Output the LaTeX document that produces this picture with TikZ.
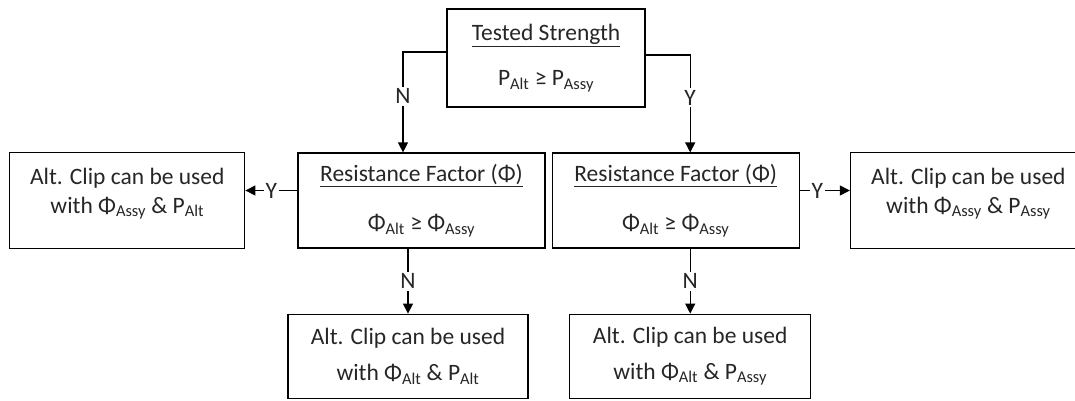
\documentclass[tikz,border=0pt]{standalone}
\usepackage{fontspec}
\setmainfont{Carlito}
\usetikzlibrary{arrows.meta, positioning}
\tikzstyle{box} = [rectangle, draw=black, line width=1.2pt, inner sep=0pt, align=center, text=black!85, font=\fontsize{23.5}{28}\selectfont]
\tikzstyle{strength} = [box, minimum width=198pt, minimum height=98pt]
\tikzstyle{factor} = [box, minimum width=247pt, minimum height=95pt]
\tikzstyle{result} = [box, minimum width=236pt, minimum height=96pt]
\tikzstyle{answer} = [fill=white, inner sep=2pt, text=black!85, font=\fontsize{23.5}{28}\selectfont]
\tikzstyle{arrow} = [-{Triangle[length=10pt, width=10pt]}, line width=1.2pt]

\begin{document}
\begin{tikzpicture}[x=1pt, y=-1pt]
  \useasboundingbox (0,0) rectangle (1075,400);
  \node (test) [strength] at (546,58) {\underline{Tested Strength}\\[17pt] P\textsubscript{Alt} ≥ P\textsubscript{Assy}};
  \node (resL) [factor] at (421.5,200.5) {\underline{Resistance Factor (Φ)}\\[21pt] Φ\textsubscript{Alt} ≥ Φ\textsubscript{Assy}};
  \node (resR) [factor, right=6pt of resL] {\underline{Resistance Factor (Φ)}\\[21pt] Φ\textsubscript{Alt} ≥ Φ\textsubscript{Assy}};
  \node (outL) [result, minimum width=235pt, text depth=20pt, left=52pt of resL] {Alt. Clip can be used\\[1pt] with Φ\textsubscript{Assy} \& P\textsubscript{Alt}};
  \node (outR) [result, text depth=20pt, right=50pt of resR] {Alt. Clip can be used\\[1pt] with Φ\textsubscript{Assy} \& P\textsubscript{Assy}};
  \node (botL) [result, minimum width=240pt, minimum height=84pt, below=65pt of resL, xshift=-13.5pt] {Alt. Clip can be used\\[8pt] with Φ\textsubscript{Alt} \& P\textsubscript{Alt}};
  \node (botR) [result, minimum width=241pt, minimum height=84pt, below=65pt of resR, xshift=14.5pt] {Alt. Clip can be used\\[8pt] with Φ\textsubscript{Alt} \& P\textsubscript{Assy}};

  \draw [arrow] ([yshift=6pt]test.west) -| node[answer, pos=0.72] {N} ([xshift=-5pt]botL.north |- resL.north);
  \draw [arrow] ([yshift=3pt]test.east) -| node[answer, pos=0.72] {Y} (botR.north |- resR.north);
  \draw [arrow] ([yshift=10pt]resL.west) -- node[answer] {Y} ([yshift=10pt]outL.east);
  \draw [arrow] ([yshift=10pt]resR.east) -- node[answer, pos=0.35] {Y} ([yshift=10pt]outR.west);
  \draw [arrow] (botL.north |- resL.south) -- node[answer] {N} (botL.north);
  \draw [arrow] (botR.north |- resR.south) -- node[answer] {N} (botR.north);
\end{tikzpicture}
\end{document}
